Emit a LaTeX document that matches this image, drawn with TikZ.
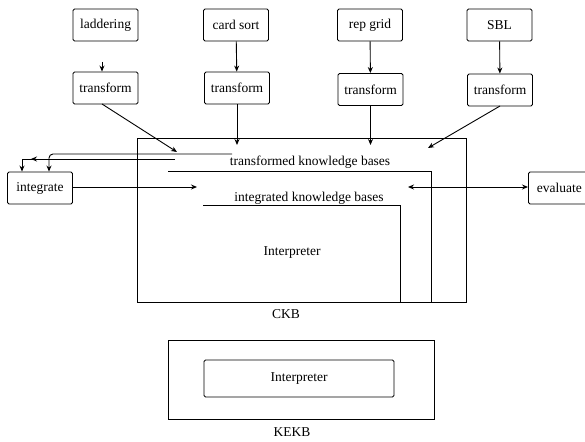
\documentclass[tikz,border=0pt]{standalone}
\usepackage{fontspec}
\setmainfont{Liberation Serif}
\usetikzlibrary{arrows.meta,decorations.markings}
\begin{document}
\begin{tikzpicture}[x=1pt,y=-1pt,
  line width=0.9pt,
  font=\fontsize{13.5}{15}\selectfont,
  tip/.style={-{Stealth[length=6pt,width=5pt]}},
  box/.style={draw,rounded corners=1.5pt,minimum width=65pt,minimum height=32pt,inner sep=0pt},
  frame/.style={draw,inner sep=0pt},
  lbl/.style={inner sep=0pt}]
\useasboundingbox (0,0) rectangle (585,441);

% knowledge acquisition tools
\node[box] (lad) at (105.5,25) {laddering};
\node[box] (card) at (236,25) {card sort};
\node[box] (rep) at (370,25) {rep grid};
\node[box] (sbl) at (499.5,25) {SBL};

% transformation steps
\node[box] (tr1) at (105.5,88) {transform};
\node[box] (tr2) at (237,88) {transform};
\node[box] (tr3) at (370.5,89.5) {transform};
\node[box] (tr4) at (500,90) {transform};

% common knowledge base
\node[frame,minimum width=329pt,minimum height=164pt] (ckb) at (301.5,220) {};
\node[lbl] (ckblbl) at (286,314) {CKB};
\node[lbl] (tkb) at (310,162) {transformed knowledge bases};
\node[lbl] (ikb) at (309,198) {integrated knowledge bases};
\node[lbl] (interp) at (292,253) {Interpreter};
\draw (168,171) -- (431,171) -- (431,302);
\draw (203,205) -- (400,205) -- (400,302);

% side processes
\node[box] (integ) at (40,188) {integrate};
\node[box,minimum width=62pt,anchor=west] (eval) at (528,188) {evaluate};

% arrow end points inside the CKB
\coordinate (ladtop) at (102,62);
\coordinate (e1) at (177,152);
\coordinate (e2) at (237,145);
\coordinate (e3) at (370.5,145);
\coordinate (e4) at (428,148);
\coordinate (u0) at (232,154);
\coordinate (l0) at (175,159);
\coordinate (ie) at (197,187);
\coordinate (ee) at (408,187);

% tools into transforms
\draw[tip] (ladtop) -- (tr1.north -| ladtop);
\draw[tip] (card) -- (tr2);
\draw[tip] (rep) -- (tr3);
\draw[tip] (sbl) -- (tr4);

% transforms into the CKB
\draw[tip] (102,104) -- (e1);
\draw[tip] (tr2.south) -- (e2);
\draw[tip] (tr3.south) -- (e3);
\draw[tip] (500,106) -- (e4);

% transformed knowledge bases fed to integrate
\draw[tip,rounded corners=4pt] (u0) -| (integ.north -| 49,0);
\draw[tip,postaction={decorate},
  decoration={markings,mark=at position 0.87 with {\arrow{Stealth[length=6pt,width=5pt]}}}]
  (l0) -| (integ.north -| 22,0);

% integrate and evaluate
\draw[tip] (integ.east |- ie) -- (ie);
\draw[{Stealth[length=6pt,width=5pt]}-{Stealth[length=6pt,width=5pt]}] (ee) -- (eval.west |- ee);

% knowledge engineering knowledge base
\node[frame,minimum width=266pt,minimum height=79pt] (kekb) at (301,379.5) {};
\node[box,minimum width=190pt,minimum height=37pt] (kinterp) at (299,378.5) {Interpreter};
\node[lbl] (kekblbl) at (292,432) {KEKB};
\end{tikzpicture}
\end{document}
